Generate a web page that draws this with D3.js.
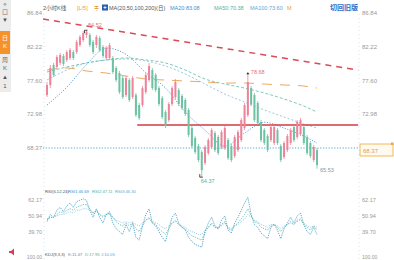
<!DOCTYPE html>
<html><head><meta charset="utf-8">
<script src="https://cdn.jsdelivr.net/npm/d3@7"></script>
<style>html,body{margin:0;padding:0;background:#fff;overflow:hidden}svg{display:block;font-family:"Liberation Sans","Noto Sans CJK SC",sans-serif}</style>
</head><body><svg id="c" width="394" height="260"></svg>
<script>
// ---- data ----
const openP=[75.63,77.01,79.75,79.48,80.03,80.99,80.44,80.71,81.53,81.53,82.49,83.18,83.87,83.87,82.91,82.49,83.45,82.22,80.71,80.71,80.71,79.34,78.65,77.97,75.63,77.69,75.36,75.63,74.26,74.26,76.05,77.69,79.06,78.38,76.59,75.22,73.30,72.20,74.40,75.36,76.32,75.50,74.95,73.58,71.11,69.74,68.64,67.81,66.31,67.68,68.50,70.42,69.87,68.50,68.36,69.46,68.64,67.27,68.09,69.46,71.11,72.89,76.59,75.63,74.54,71.93,70.83,70.01,69.46,69.05,70.83,68.64,67.13,68.09,69.05,71.24,69.87,70.28,71.24,69.87,69.05,66.72,68.09];
const closeP=[77.01,79.34,78.38,80.85,81.12,79.89,81.53,81.81,80.71,82.91,83.59,84.14,84.35,82.49,81.53,83.59,81.81,80.99,82.08,82.49,78.79,77.69,76.05,75.36,77.97,74.95,77.97,72.89,72.48,76.59,78.38,79.61,76.59,76.32,74.40,72.62,71.38,74.40,76.59,77.42,74.40,73.85,73.03,70.15,68.64,67.81,66.72,65.34,68.50,69.46,70.83,68.09,67.68,70.56,71.11,66.99,66.72,69.87,70.56,72.20,74.26,77.42,74.40,72.20,71.79,69.46,69.05,68.09,71.24,71.24,69.05,66.72,69.05,70.01,70.83,69.46,71.93,72.20,69.05,67.68,67.27,68.50,66.03];
const highP=[77.42,79.75,80.03,81.12,81.40,81.26,81.81,82.08,81.81,83.18,83.87,84.41,84.52,84.14,83.18,83.87,83.73,82.49,82.36,82.77,80.99,79.61,78.93,78.24,78.24,77.97,78.24,75.91,74.54,76.87,78.65,80.03,79.34,78.65,76.87,75.50,73.58,74.67,76.87,77.83,76.59,75.77,75.22,73.85,71.38,70.01,68.91,68.09,68.78,69.74,71.11,70.69,70.15,70.83,71.38,69.74,68.91,70.15,70.83,72.48,74.54,78.68,76.87,75.91,74.81,72.20,71.11,70.28,71.52,71.52,71.11,68.91,69.32,70.28,71.11,71.52,72.20,72.48,71.52,70.15,69.32,68.78,68.36];
const lowP=[75.36,76.59,78.10,79.20,79.75,79.61,80.16,80.44,80.44,81.26,82.22,82.91,83.45,82.22,81.26,82.08,81.53,80.71,80.44,80.44,78.51,77.42,75.77,75.09,75.36,74.67,75.09,72.62,72.20,73.99,75.77,77.42,76.32,76.05,74.12,72.34,71.11,71.93,74.12,75.09,74.12,73.58,72.75,69.87,68.36,67.54,66.44,64.37,66.03,67.40,68.23,67.81,67.40,68.23,68.09,66.72,66.44,66.99,67.81,69.19,70.83,72.62,74.12,71.93,71.52,69.19,68.78,67.81,69.19,68.78,68.78,66.44,66.85,67.81,68.78,69.19,69.60,70.01,68.78,67.40,66.99,66.44,65.53];

const maIdx=[0,6,12,18,24,30,36,42,48,54,60,66,72,78,82];
const ma20=[74.26,76.70,79.80,82.08,81.20,78.70,76.59,73.30,70.80,68.64,70.42,71.90,71.10,70.00,69.05];
const ma50=[78.79,79.48,80.03,80.44,80.71,80.44,80.03,79.06,77.83,77.14,76.59,75.91,75.09,74.12,73.30];
const ma100=[77.69,79.06,80.03,80.44,80.57,80.30,79.61,78.52,77.14,75.77,74.67,73.58,72.62,71.66,71.11];
const ma200=[79.06,79.34,78.93,78.65,78.24,77.83,77.69,77.56,77.42,77.28,77.28,77.14,77.01,76.87,76.59];

const rsi1=[47,52,50,55,57,54,58,60,57,61,62,63,62,55,50,56,50,46,52,54,46,42,40,38,45,40,46,36,34,44,52,56,46,44,40,36,33,42,50,53,46,43,41,36,33,31,30,29,40,46,50,44,42,48,51,41,39,46,50,55,60,64,52,45,43,39,37,35,43,45,41,35,42,46,50,46,51,53,45,40,38,43,38];
const rsi2=[48,50,50,52,54,53,55,56,55,57,58,59,59,56,53,55,52,50,52,53,50,47,45,44,46,44,46,42,40,44,48,50,46,45,42,40,38,42,46,48,45,43,42,39,37,36,35,34,40,43,46,43,42,45,47,42,41,44,46,49,52,56,51,47,46,43,42,41,44,45,43,40,43,45,47,45,48,49,45,43,41,44,41];
const rsi3=[49,50,50,51,52,52,53,54,53,55,55,56,56,55,53,54,52,51,52,52,50,48,47,46,47,46,47,45,44,46,48,49,47,46,45,43,42,44,46,47,45,44,43,41,40,39,38,38,41,43,45,43,43,44,46,43,42,44,45,47,49,52,50,48,47,45,44,43,45,45,44,42,44,45,46,45,47,48,46,44,43,44,43];

const trendIdx=[-1.2,94.5], trendVal=[86.06,79.06];
const supportIdx=[27.4,94.5], supportVal=[71.52,71.52];
const lastPrice=68.37;
const priceTicks=[86.84,82.22,77.60,72.98];
const priceTickLabels=["86.84","82.22","77.60","72.98","68.37"];
const rsiTicks=[62.17,50.94,39.70];
const rsiTickLabels=["62.17","50.94","39.70"];
const peakLabels=[{i:12,v:84.52,t:"84.52"},{i:61,v:78.68,t:"78.68"}];
const lowLabels=[{i:47,v:64.37,t:"64.37"},{i:82,v:65.53,t:"65.53"}];

// ---- drawing ----
const svg=d3.select("#c");
const N=closeP.length;
const x=d3.scaleLinear().domain([0,N-1]).range([47,317]);
const y=d3.scaleLinear().domain([68.37,82.22]).range([148,47]);
const yr=d3.scaleLinear().domain([39.70,62.17]).range([232,200]);
const UP="#ec8399", DN="#6cc2a2";

// left toolbar
svg.append("rect").attr("x",0).attr("y",0).attr("width",11).attr("height",92).attr("fill","#ececec");
svg.append("rect").attr("x",0).attr("y",31).attr("width",10).attr("height",23).attr("fill","#f5922a");
const tb=[["⋄",6,"#777"],["口",14,"#777"],["▼",22,"#555"],["日",40,"#fff"],["K",48,"#fff"],["周",62,"#666"],["K",70,"#666"],["▲",79,"#555"],["1",88,"#555"]];
tb.forEach(d=>svg.append("text").attr("x",5).attr("y",d[1]).attr("text-anchor","middle").attr("font-size",6).attr("fill",d[2]).text(d[0]));

// frame dotted verticals
[44,359].forEach(xx=>svg.append("line").attr("x1",xx).attr("x2",xx).attr("y1",14).attr("y2",260).attr("stroke","#ccd3da").attr("stroke-width",0.7).attr("stroke-dasharray","1,3"));

// top title
const title=[["2小时K线",43,"#555"],["[L/5]",77,"#e6a03c"],["≑",94,"#e6a03c"],["MA(20,50,100,200)(日)",109,"#555"],["MA20:83.08",170,"#3d8fd0"],["MA50:70.38",214,"#4fb3a0"],["MA100:73.60",250,"#5aa8d8"],["M",287,"#e6a03c"]];
title.forEach(d=>svg.append("text").attr("x",d[1]).attr("y",10).attr("font-size",5.5).attr("fill",d[2]).text(d[0]));
svg.append("rect").attr("x",102).attr("y",4.5).attr("width",6).attr("height",6).attr("fill","#2b5fa8");
svg.append("path").attr("d","M103.5,7.5h3M105,6v3").attr("stroke","#fff").attr("stroke-width",0.8);
svg.append("text").attr("x",330).attr("y",10).attr("font-size",7).attr("font-weight","bold").attr("fill","#2a6fc9").text("切回旧版");

// price axes
priceTicks.forEach((v,k)=>{
  svg.append("text").attr("x",42).attr("y",y(v)+2).attr("text-anchor","end").attr("font-size",6).attr("fill","#999").text(priceTickLabels[k]);
  svg.append("text").attr("x",362).attr("y",y(v)+2).attr("font-size",6).attr("fill","#999").text(priceTickLabels[k]);
});
svg.append("text").attr("x",42).attr("y",y(lastPrice)+2).attr("text-anchor","end").attr("font-size",6).attr("fill","#999").text(priceTickLabels[4]);

// MA lines
const maLine=(vals)=>d3.line().x((d,k)=>x(maIdx[k])).y(d=>y(d)).curve(d3.curveMonotoneX)(vals);
[[ma200,"#f0a860","10,8",1],[ma100,"#84b8dc","2,2",0.8],[ma50,"#5cbaa8","3,2",0.8],[ma20,"#4a98d4","1.2,1.5",0.9]].forEach(m=>{
  svg.append("path").attr("d",maLine(m[0])).attr("fill","none").attr("stroke",m[1]).attr("stroke-dasharray",m[2]).attr("stroke-width",m[3]);
});

// trend & support
svg.append("line").attr("x1",x(trendIdx[0])).attr("y1",y(trendVal[0])).attr("x2",x(trendIdx[1])).attr("y2",y(trendVal[1])).attr("stroke","#dc4a58").attr("stroke-width",1.5).attr("stroke-dasharray","6,5");
svg.append("line").attr("x1",x(supportIdx[0])).attr("y1",y(supportVal[0])).attr("x2",x(supportIdx[1])).attr("y2",y(supportVal[1])).attr("stroke","#d23a40").attr("stroke-width",1.4);

// current price dotted line
svg.append("line").attr("x1",43).attr("x2",359).attr("y1",y(lastPrice)).attr("y2",y(lastPrice)).attr("stroke","#3a9fd0").attr("stroke-width",0.9).attr("stroke-dasharray","1.2,1.6");

// candles
const g=svg.append("g");
d3.range(N).forEach(i=>{
  const c=closeP[i]>=openP[i]?UP:DN, cx=x(i);
  g.append("line").attr("x1",cx).attr("x2",cx).attr("y1",y(highP[i])).attr("y2",y(lowP[i])).attr("stroke",c).attr("stroke-width",0.8);
  const t=y(Math.max(openP[i],closeP[i])), b=y(Math.min(openP[i],closeP[i]));
  g.append("rect").attr("x",cx-1).attr("y",t).attr("width",2).attr("height",Math.max(0.8,b-t)).attr("fill",c);
});

// annotations
peakLabels.forEach((p,k)=>{
  const cx=x(p.i), cy=y(p.v);
  if(k===0){
    svg.append("path").attr("d",`M${cx-2},${cy+3}V${cy}H${cx+1}`).attr("stroke","#222").attr("fill","none").attr("stroke-width",0.8);
    svg.append("text").attr("x",cx+1.5).attr("y",cy-3).attr("font-size",5.5).attr("fill","#e07080").text(p.t);
  } else {
    svg.append("path").attr("d",`M${cx-1.5},${cy+1.5}L${cx},${cy-0.5}L${cx+1.5},${cy+1.5}Z`).attr("fill","#222");
    svg.append("text").attr("x",cx+3).attr("y",cy+1).attr("font-size",5.5).attr("fill","#e07080").text(p.t);
  }
});
lowLabels.forEach((p,k)=>{
  const cx=x(p.i), cy=y(p.v);
  if(k===0){
    svg.append("path").attr("d",`M${cx-2},${cy-3}V${cy}H${cx+1}`).attr("stroke","#222").attr("fill","none").attr("stroke-width",0.8);
    svg.append("text").attr("x",cx-1).attr("y",cy+6).attr("font-size",5.5).attr("fill","#4fb3a0").text(p.t);
  } else {
    svg.append("text").attr("x",cx+3).attr("y",cy+3).attr("font-size",5.5).attr("fill","#7a9aa8").text(p.t);
  }
});

// current price box
const by=y(lastPrice);
svg.append("rect").attr("x",360).attr("y",by-4).attr("width",33).attr("height",12).attr("fill","#fffaf0").attr("stroke","#f0a53a").attr("stroke-width",0.8);
svg.append("text").attr("x",363).attr("y",by+4.5).attr("font-size",6).attr("fill","#d9a050").text(priceTickLabels[4]);
svg.append("rect").attr("x",391).attr("y",by-5.5).attr("width",2.5).attr("height",2.5).attr("fill","#f0a53a");

// RSI panel
const rt=[["RSI(6,12,24)",45,"#555"],["RSI1:46.69",68,"#3d8fd0"],["RSI2:47.11",92,"#4fb3a0"],["RSI3:46.30",115,"#5aa8d8"]];
rt.forEach(d=>svg.append("text").attr("x",d[1]).attr("y",193).attr("font-size",4.2).attr("fill",d[2]).text(d[0]));
rsiTicks.forEach((v,k)=>{
  svg.append("text").attr("x",42).attr("y",yr(v)+2).attr("text-anchor","end").attr("font-size",5.5).attr("fill","#999").text(rsiTickLabels[k]);
  svg.append("text").attr("x",362).attr("y",yr(v)+2).attr("font-size",5.5).attr("fill","#999").text(rsiTickLabels[k]);
});
const rl=d3.line().x((d,i)=>x(i)).y(d=>yr(d));
[[rsi3,"#7ab8dc","1,1.2"],[rsi2,"#4fb3a0","1.3,1.2"],[rsi1,"#3a98c8","1.3,1"]].forEach(r=>{
  svg.append("path").attr("d",rl(r[0])).attr("fill","none").attr("stroke",r[1]).attr("stroke-width",0.8).attr("stroke-dasharray",r[2]);
});

// KDJ line
const kt=[["KDJ(9,3,3)",45,"#555"],["K:11.47",68,"#3d8fd0"],["D:17.95",85,"#4fb3a0"],["J:10.05",101,"#5aa8d8"]];
kt.forEach(d=>svg.append("text").attr("x",d[1]).attr("y",256).attr("font-size",4.2).attr("fill",d[2]).text(d[0]));
svg.append("text").attr("x",42).attr("y",259).attr("text-anchor","end").attr("font-size",5).attr("fill","#999").text("100.00");
svg.append("text").attr("x",362).attr("y",259).attr("font-size",5).attr("fill","#999").text("100.00");
svg.append("path").attr("d","M9,251h2l3,-2.5v7l-3,-2.5h-2Z").attr("fill","#d8404f");
</script></body></html>
